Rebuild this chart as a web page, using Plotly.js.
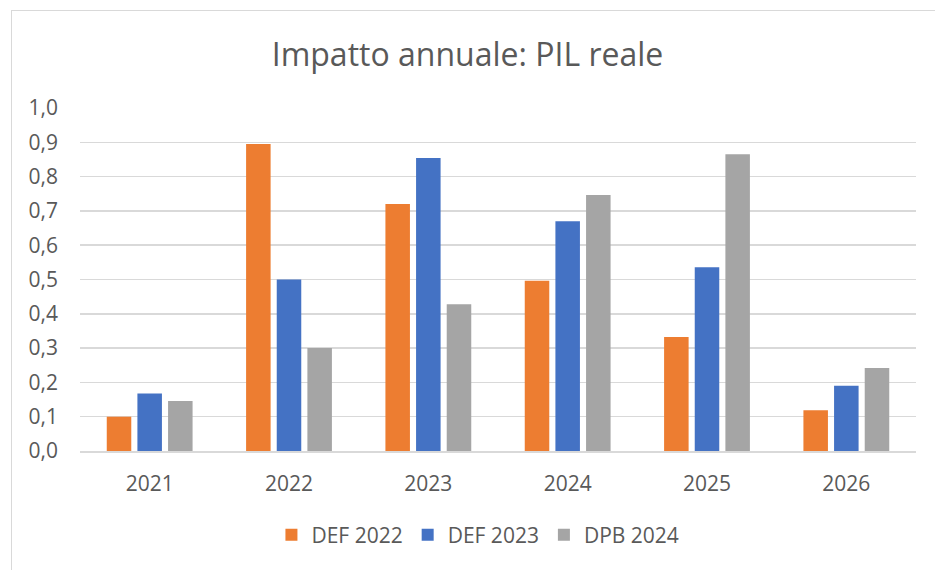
<!DOCTYPE html>
<html>
<head>
<meta charset="utf-8">
<script src="https://cdn.plot.ly/plotly-3.0.1.min.js"></script>
<style>
  html, body { margin: 0; padding: 0; background: #fff; }
  #wrap { position: relative; width: 935px; height: 570px; overflow: hidden; }
  #chart { position: absolute; left: 0; top: 0; width: 935px; height: 570px; }
  #frame { position: absolute; left: 11px; top: 10px; width: 940px; height: 580px;
           border-left: 1.5px solid #d9d9d9; border-top: 1.5px solid #d9d9d9; pointer-events: none; }
</style>
</head>
<body>
<div id="wrap">
  <div id="chart"></div>
  <div id="frame"></div>
</div>
<script>
const years = ["2021", "2022", "2023", "2024", "2025", "2026"];
const def2022 = [0.10, 0.895, 0.72, 0.496, 0.332, 0.119];
const def2023 = [0.168, 0.50, 0.854, 0.67, 0.536, 0.19];
const dpb2024 = [0.146, 0.30, 0.428, 0.746, 0.865, 0.242];
const seriesNames = ["DEF 2022", "DEF 2023", "DPB 2024"];
const yTicks = [0, 0.1, 0.2, 0.3, 0.4, 0.5, 0.6, 0.7, 0.8, 0.9, 1.0];

const colors = ["#ED7D31", "#4472C4", "#A5A5A5"];
const font = "Open Sans, Noto Sans, sans-serif";
const values = [def2022, def2023, dpb2024];

const data = values.map((v, i) => ({
  type: "bar",
  x: years,
  y: v,
  name: seriesNames[i],
  marker: { color: colors[i] },
  hoverinfo: "skip"
}));

const layout = {
  width: 935,
  height: 570,
  paper_bgcolor: "#ffffff",
  plot_bgcolor: "#ffffff",
  separators: ",.",
  margin: { l: 80, r: 19, t: 108, b: 119 },
  barmode: "group",
  bargap: 0.34,
  bargroupgap: 0.2,
  title: {
    text: "Impatto annuale: PIL reale",
    font: { family: font, size: 32, color: "#595959" },
    x: 0.5, xanchor: "center",
    y: 1 - 55 / 570, yanchor: "middle", yref: "container"
  },
  xaxis: {
    type: "category",
    showgrid: false,
    showline: true,
    linecolor: "#d9d9d9",
    linewidth: 1.5,
    ticks: "",
    ticklabelstandoff: 13,
    tickfont: { family: font, size: 21, color: "#595959" },
    fixedrange: true
  },
  yaxis: {
    range: [0, 1.0],
    tickvals: yTicks,
    tickformat: ".1f",
    showgrid: true,
    gridcolor: "#d9d9d9",
    gridwidth: 1.5,
    zeroline: false,
    showline: false,
    ticks: "",
    ticklabelstandoff: 21,
    tickfont: { family: font, size: 21, color: "#595959" },
    fixedrange: true
  },
  showlegend: true,
  legend: {
    orientation: "h",
    x: 0.476, xanchor: "center",
    y: -(535 - 451) / 343, yanchor: "middle",
    font: { family: font, size: 21, color: "#595959" },
    itemwidth: 30,
    traceorder: "normal"
  }
};

Plotly.newPlot("chart", data, layout, { displayModeBar: false, staticPlot: true });
</script>
</body>
</html>
